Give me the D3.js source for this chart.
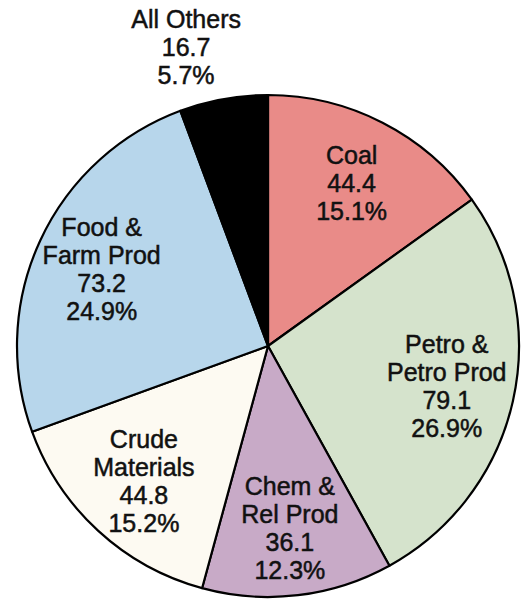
<!DOCTYPE html>
<html>
<head>
<meta charset="utf-8">
<script src="https://cdn.jsdelivr.net/npm/d3@7"></script>
<style>
  body { margin: 0; background: #fff; }
  text { font-family: "Liberation Sans", Arial, sans-serif; font-size: 25px; fill: #111; stroke: #111; stroke-width: 0.5px; }
</style>
</head>
<body>
<div id="chart"></div>
<script>
// slice data, clockwise from 12 o'clock
var categories = ["Coal", "Petro & Petro Prod", "Chem & Rel Prod", "Crude Materials", "Food & Farm Prod", "All Others"];
var labelLines = [["Coal"], ["Petro &", "Petro Prod"], ["Chem &", "Rel Prod"], ["Crude", "Materials"], ["Food &", "Farm Prod"], ["All Others"]];
var values = [44.4, 79.1, 36.1, 44.8, 73.2, 16.7];
var percents = ["15.1%", "26.9%", "12.3%", "15.2%", "24.9%", "5.7%"];
var colors = ["#e98b88", "#d5e3cc", "#c8aac7", "#fdfaf2", "#b7d6eb", "#000000"];

var width = 522, height = 601;
var cx = 268, cy = 346, radius = 251;
var lineHeight = 28;

var svg = d3.select("#chart").append("svg")
    .attr("width", width)
    .attr("height", height)
  .append("g")
    .attr("transform", "translate(" + cx + "," + cy + ")");

var pie = d3.pie().sort(null).value(function(d) { return d; });
var arcs = pie(values);

var arc = d3.arc().innerRadius(0).outerRadius(radius);
var labelArc = d3.arc().innerRadius(radius * 0.73).outerRadius(radius * 0.73);
var outerLabelArc = d3.arc().innerRadius(radius * 1.235).outerRadius(radius * 1.235);

// slices
svg.selectAll("path.slice")
  .data(arcs)
  .enter().append("path")
    .attr("class", "slice")
    .attr("d", arc)
    .attr("fill", function(d, i) { return colors[i]; })
    .attr("stroke", "#000")
    .attr("stroke-width", 2.2)
    .attr("stroke-linejoin", "round");

// labels: name lines, value, percent
var labels = svg.selectAll("text.label")
  .data(arcs)
  .enter().append("text")
    .attr("class", "label")
    .attr("text-anchor", "middle")
    .attr("transform", function(d) {
      var small = (d.endAngle - d.startAngle) < 0.5;
      var c;
      if (small) {
        // small slice: label sits outside, pulled toward the slice's leading edge
        var a = d.startAngle + (d.endAngle - d.startAngle) * 0.25;
        c = outerLabelArc.centroid({startAngle: a, endAngle: a});
      } else {
        c = labelArc.centroid(d);
      }
      return "translate(" + c[0] + "," + c[1] + ")";
    });

labels.each(function(d, i) {
  var lines = labelLines[i].concat([values[i].toFixed(1), percents[i]]);
  var t = d3.select(this);
  var y0 = -(lines.length - 1) * lineHeight / 2 + 9;
  lines.forEach(function(s, j) {
    t.append("tspan")
      .attr("x", 0)
      .attr("y", y0 + j * lineHeight)
      .text(s);
  });
});
</script>
</body>
</html>
